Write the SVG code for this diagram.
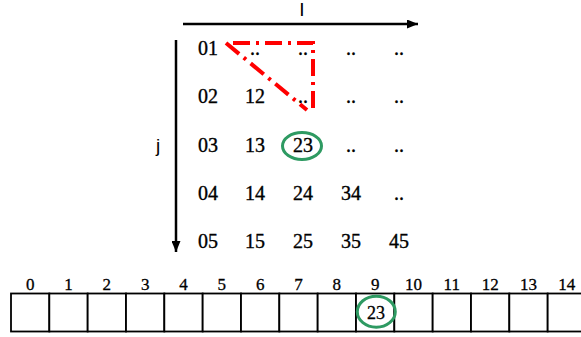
<svg xmlns="http://www.w3.org/2000/svg" width="581" height="337" viewBox="0 0 581 337">
<defs>
<marker id="ah" viewBox="0 0 11 9" refX="11" refY="4.5" markerWidth="11" markerHeight="9" markerUnits="userSpaceOnUse" orient="auto">
<path d="M0,0 L11,4.5 L0,9 Z" fill="#000"/>
</marker>
</defs>
<style>
.m{font-family:"Liberation Serif","DejaVu Serif",serif;font-size:20px;fill:#000;stroke:#000;stroke-width:0.35;text-anchor:middle}
.ix{font-family:"Liberation Serif","DejaVu Serif",serif;font-size:17px;fill:#000;stroke:#000;stroke-width:0.3;text-anchor:middle}
.ax{font-family:"Liberation Sans",Arial,sans-serif;font-size:19px;fill:#000;text-anchor:middle}
.cell{fill:#fff;stroke:#000;stroke-width:1.8}
.red{fill:none;stroke:#FF0000;stroke-width:4;stroke-dasharray:17 6 3 6}
.grn{fill:none;stroke:#2E9A62;stroke-width:3}
</style>
<rect width="581" height="337" fill="#fff"/>
<g id="axes">
<line x1="183" y1="24" x2="418" y2="24" stroke="#000" stroke-width="2.5" marker-end="url(#ah)"/>
<line x1="176" y1="40" x2="176" y2="252" stroke="#000" stroke-width="2.5" marker-end="url(#ah)"/>
<text class="ax" x="302" y="16">I</text>
<text class="ax" x="158" y="152">j</text>
</g>
<g id="matrix">
<text class="m" x="208" y="55">01</text><text class="m" x="255" y="55">..</text><text class="m" x="303" y="55">..</text><text class="m" x="351" y="55">..</text><text class="m" x="399" y="55">..</text>
<text class="m" x="208" y="103">02</text><text class="m" x="255" y="103">12</text><text class="m" x="303" y="103">..</text><text class="m" x="351" y="103">..</text><text class="m" x="399" y="103">..</text>
<text class="m" x="208" y="152">03</text><text class="m" x="255" y="152">13</text><text class="m" x="303" y="152">23</text><text class="m" x="351" y="152">..</text><text class="m" x="399" y="152">..</text>
<text class="m" x="208" y="200">04</text><text class="m" x="255" y="200">14</text><text class="m" x="303" y="200">24</text><text class="m" x="351" y="200">34</text><text class="m" x="399" y="200">..</text>
<text class="m" x="208" y="248">05</text><text class="m" x="255" y="248">15</text><text class="m" x="303" y="248">25</text><text class="m" x="351" y="248">35</text><text class="m" x="399" y="248">45</text>
</g>
<g id="connectors">
<path class="red" d="M233,43 L313,43 L313,114"/>
<path class="red" d="M226,43 L307,110"/>
</g>
<g id="highlight-matrix">
<ellipse class="grn" cx="302" cy="146" rx="19.5" ry="13.5"/>
</g>
<g id="array">
<rect class="cell" x="11" y="293.5" width="38.33" height="38"/>
<rect class="cell" x="49.33" y="293.5" width="38.33" height="38"/>
<rect class="cell" x="87.67" y="293.5" width="38.33" height="38"/>
<rect class="cell" x="126" y="293.5" width="38.33" height="38"/>
<rect class="cell" x="164.33" y="293.5" width="38.33" height="38"/>
<rect class="cell" x="202.67" y="293.5" width="38.33" height="38"/>
<rect class="cell" x="241" y="293.5" width="38.33" height="38"/>
<rect class="cell" x="279.33" y="293.5" width="38.33" height="38"/>
<rect class="cell" x="317.67" y="293.5" width="38.33" height="38"/>
<rect class="cell" x="356" y="293.5" width="38.33" height="38"/>
<rect class="cell" x="394.33" y="293.5" width="38.33" height="38"/>
<rect class="cell" x="432.67" y="293.5" width="38.33" height="38"/>
<rect class="cell" x="471" y="293.5" width="38.33" height="38"/>
<rect class="cell" x="509.33" y="293.5" width="38.33" height="38"/>
<rect class="cell" x="547.67" y="293.5" width="38.33" height="38"/>
<text class="ix" x="30.2" y="290">0</text>
<text class="ix" x="68.5" y="290">1</text>
<text class="ix" x="106.8" y="290">2</text>
<text class="ix" x="145.2" y="290">3</text>
<text class="ix" x="183.5" y="290">4</text>
<text class="ix" x="221.8" y="290">5</text>
<text class="ix" x="260.2" y="290">6</text>
<text class="ix" x="298.5" y="290">7</text>
<text class="ix" x="336.8" y="290">8</text>
<text class="ix" x="375.2" y="290">9</text>
<text class="ix" x="413.5" y="290">10</text>
<text class="ix" x="451.8" y="290">11</text>
<text class="ix" x="490.2" y="290">12</text>
<text class="ix" x="528.5" y="290">13</text>
<text class="ix" x="566.8" y="290">14</text>
<text class="ix" x="376" y="319" style="font-size:18px">23</text>
<ellipse class="grn" cx="376.3" cy="311.7" rx="19" ry="15.5"/>
</g>
</svg>
